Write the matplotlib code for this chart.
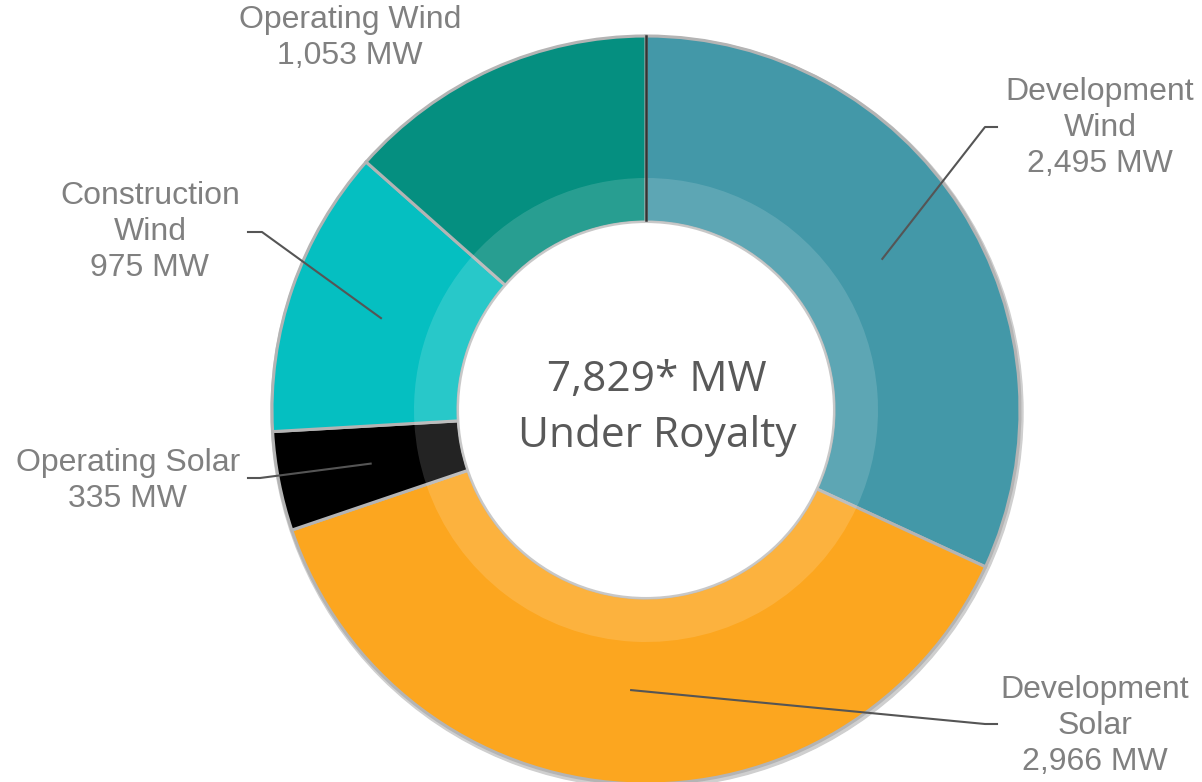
import numpy as np
import matplotlib.pyplot as plt
from matplotlib.patches import Circle

# data, clockwise from 12 o'clock
names = ['Development\nWind', 'Development\nSolar', 'Operating Solar', 'Construction\nWind', 'Operating Wind']
mw = [2495, 2966, 335, 975, 1053]
colors = ['#4398A8', '#FCA61F', '#000000', '#05BFC1', '#058F80']
center_text = '7,829* MW\nUnder Royalty'

W, H = 1202, 782
cx, cy = 646, H - 410
R = 374
R_in = 188

fig = plt.figure(figsize=(W / 100, H / 100), dpi=100)
ax = fig.add_axes([0, 0, 1, 1])

# soft shadow ring under the donut
ax.add_patch(Circle((cx + 1, cy - 2), R + 2, color='#cfcfcf', zorder=0))

wedges, _ = ax.pie(mw, colors=colors, startangle=90, counterclock=False,
                   center=(cx, cy), radius=R, frame=True,
                   wedgeprops=dict(width=R - R_in, edgecolor='#b4b4b4', linewidth=2.2))

# lighter inner band
ax.pie(mw, colors=['white'] * len(mw), startangle=90, counterclock=False,
       center=(cx, cy), radius=232, frame=True,
       wedgeprops=dict(width=232 - R_in, alpha=0.14, linewidth=0))
ax.add_patch(Circle((cx, cy), R_in, facecolor='white', edgecolor='#c8c8c8', lw=1.5, zorder=3))
# dark seam at 12 o'clock
ax.plot([cx, cx], [cy + R_in + 2, cy + R], color='#333333', lw=1.8, zorder=4)

ax.set_xlim(0, W)
ax.set_ylim(0, H)
ax.set_aspect('equal')
ax.axis('off')

# labels: (text x, text y, elbow x, elbow y, end x) in pixels, y from top
label_pos = [
    (1100, 128, 985, 127, 997),
    (1095, 726, 985, 724, 997),
    (128, 481, 260, 478, 248),
    (150, 232, 262, 232, 248),
    (350, 38, None, None, None),
]

total = sum(mw)
start = 90.0
for i, (name, v) in enumerate(zip(names, mw)):
    span = v / total * 360
    mid = np.deg2rad(start - span / 2)
    start -= span
    tx, ty, ex, ey, endx = label_pos[i]
    ax.text(tx, H - ty, f'{name}\n{v:,} MW', ha='center', va='center',
            fontsize=23, color='#808080', family='Liberation Sans', linespacing=1.27)
    if ex is not None:
        ax0 = cx + 0.75 * R * np.cos(mid)
        ay0 = cy + 0.75 * R * np.sin(mid)
        ax.plot([ax0, ex, endx], [ay0, H - ey, H - ey], color='#555555', lw=1.5, zorder=4)

ax.text(cx + 11, cy + 2, center_text, ha='center', va='center', fontsize=30.5,
        color='#595959', family='Open Sans', linespacing=1.4, zorder=5)

fig.savefig('out.png', dpi=100)
